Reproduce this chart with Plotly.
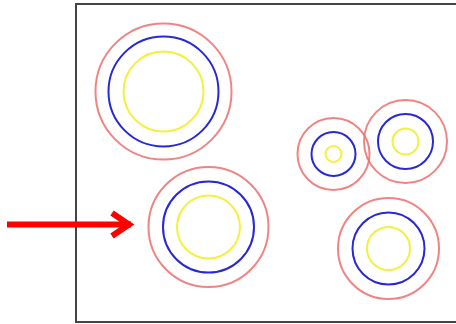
import plotly.graph_objects as go

# ring centres (axis units, origin at the bottom-left corner of the frame)
centers_x = [86.5, 131.5, 256.5, 328.5, 311.5]
centers_y = [229.5, 94.0, 167.0, 179.5, 72.5]

# radii of the three concentric rings around each centre
r_outer = [68.0, 60.0, 36.0, 41.5, 50.5]
r_middle = [55.0, 45.5, 22.0, 27.5, 36.0]
r_inner = [40.0, 31.5, 8.0, 13.0, 21.5]

# pointer arrow, in page units of the full-page axes
arrow_x = [7, 131]
arrow_y = [224.5, 224.5]
head_x = [112, 129, 112]
head_y = [213, 224.5, 236]

W, H = 456, 324

fig = go.Figure()

# invisible trace so the main axes exist
fig.add_trace(go.Scatter(x=centers_x, y=centers_y, mode="markers",
                         marker=dict(size=1, opacity=0), hoverinfo="skip",
                         showlegend=False))

rings = [(r_outer, "rgba(236,110,110,0.85)"),
         (r_middle, "rgb(40,40,215)"),
         (r_inner, "rgb(245,240,60)")]
for radii, colour in rings:
    for cx, cy, r in zip(centers_x, centers_y, radii):
        fig.add_shape(type="circle", xref="x", yref="y",
                      x0=cx - r, x1=cx + r, y0=cy - r, y1=cy + r,
                      line=dict(color=colour, width=2))

# arrow drawn on full-page axes so it can sit outside the frame
fig.add_trace(go.Scatter(x=arrow_x, y=arrow_y, mode="lines",
                         line=dict(color="red", width=6),
                         xaxis="x2", yaxis="y2", hoverinfo="skip",
                         showlegend=False))
fig.add_trace(go.Scatter(x=head_x, y=head_y, mode="lines",
                         line=dict(color="red", width=6),
                         xaxis="x2", yaxis="y2", hoverinfo="skip",
                         showlegend=False))

x_dom = [77 / W, 1]
y_dom = [3 / H, 319 / H]

fig.update_layout(
    width=W, height=H,
    margin=dict(l=0, r=0, t=0, b=0),
    paper_bgcolor="white", plot_bgcolor="rgba(0,0,0,0)",
    showlegend=False,
    xaxis=dict(domain=x_dom, range=[0, 379], showgrid=False, zeroline=False,
               showticklabels=False, ticks="", showline=True, mirror=True,
               linecolor="#444", linewidth=1.5),
    yaxis=dict(domain=y_dom, range=[0, 316], showgrid=False, zeroline=False,
               showticklabels=False, ticks="", showline=True, mirror=False,
               linecolor="#444", linewidth=1.5),
    xaxis2=dict(domain=[0, 1], range=[0, W], visible=False, anchor="y2"),
    yaxis2=dict(domain=[0, 1], range=[H, 0], visible=False, anchor="x2"),
)

fig.write_html("out.html", config={"displayModeBar": False},
               post_script="document.body.style.margin='0px';")
